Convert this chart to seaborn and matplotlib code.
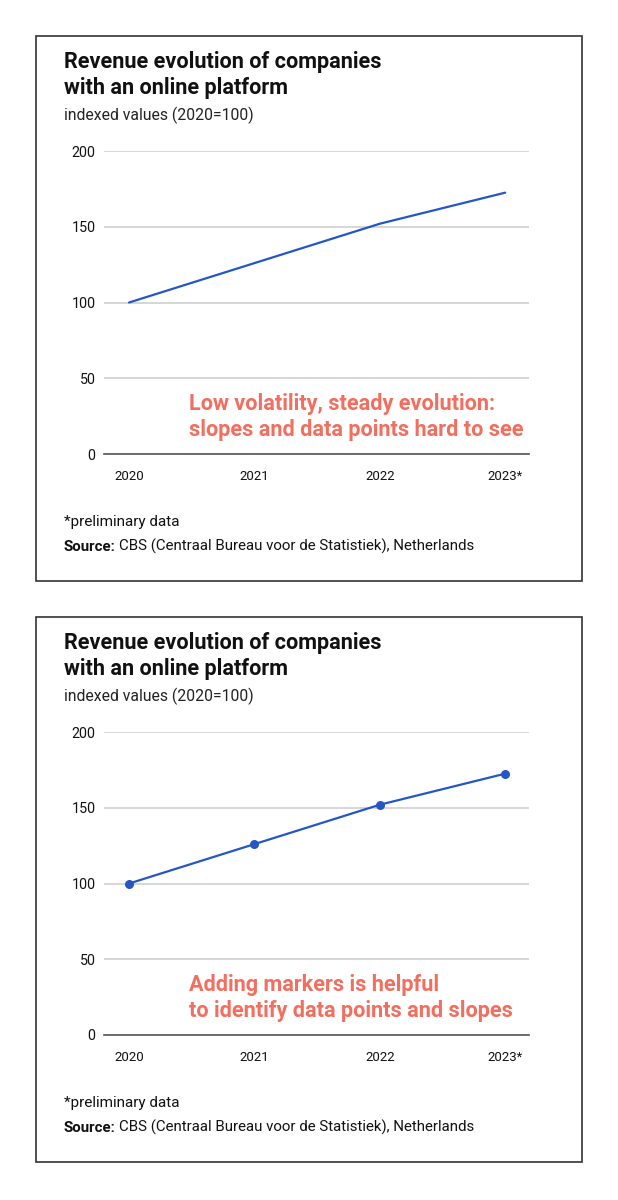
import matplotlib
matplotlib.use("Agg")
import matplotlib.pyplot as plt
from matplotlib.patches import Rectangle
import seaborn as sns
import pandas as pd

years = ["2020", "2021", "2022", "2023*"]
revenue_index = [100, 126, 152, 172.5]
y_ticks = [0, 50, 100, 150, 200]

title = "Revenue evolution of companies\nwith an online platform"
subtitle = "indexed values (2020=100)"
notes = ["Low volatility, steady evolution:\nslopes and data points hard to see",
         "Adding markers is helpful\nto identify data points and slopes"]
footnote = "*preliminary data"
source_bold = "Source:"
source_rest = "CBS (Centraal Bureau voor de Statistiek), Netherlands"

df = pd.DataFrame({"pos": range(len(years)), "value": revenue_index})

sns.set_style("white")
plt.rcParams["font.family"] = ["Roboto", "DejaVu Sans"]

W, H = 618, 1200
fig = plt.figure(figsize=(W / 100, H / 100), dpi=100)

LINE = "#2457c5"
CORAL = "#f26e5f"


def fx(px):
    return px / W


def fy(py):
    return 1 - py / H


for k, off in enumerate([0, 581]):
    fig.patches.append(Rectangle((fx(36), fy(581 + off)), fx(546), 545 / H,
                                 transform=fig.transFigure, fill=False,
                                 edgecolor="#333333", linewidth=1.2))
    fig.text(fx(64), fy(75 + off), title, fontsize=15.6, fontweight="bold",
             va="center", ha="left", linespacing=1.2, color="#111111")
    fig.text(fx(64), fy(115 + off), subtitle, fontsize=11.3, va="center",
             ha="left", color="#222222")

    ax = fig.add_axes([fx(104), fy(454 + off), fx(529 - 104), 303 / H])
    sns.lineplot(data=df, x="pos", y="value", ax=ax, color=LINE, linewidth=1.6,
                 marker="o" if k == 1 else None, markersize=6.5,
                 markeredgewidth=0, clip_on=False)
    ax.set_xlim(-0.2, 3.19)
    ax.set_ylim(0, 200)
    ax.set_yticks(y_ticks)
    ax.set_yticklabels([str(t) for t in y_ticks], fontsize=10.3)
    ax.set_xticks(range(len(years)))
    ax.set_xticklabels(years, fontsize=9.5)
    ax.set_xlabel("")
    ax.set_ylabel("")
    for s in ["top", "right", "left"]:
        ax.spines[s].set_visible(False)
    ax.spines["bottom"].set_color("#555555")
    ax.spines["bottom"].set_linewidth(1.2)
    ax.grid(axis="y", color="#cccccc", linewidth=1.1)
    ax.grid(axis="x", visible=False)
    ax.set_axisbelow(True)
    ax.tick_params(axis="y", length=0, pad=6, colors="#111111")
    ax.tick_params(axis="x", length=6, width=1.1, color="#555555", pad=5.5,
                   labelcolor="#111111", direction="out")
    ax.patch.set_alpha(0)

    fig.text(fx(189), fy(417 + off), notes[k], fontsize=15.6, fontweight="bold",
             color=CORAL, va="center", ha="left", linespacing=1.2)

    fig.text(fx(64), fy(522 + off), footnote, fontsize=11, va="center",
             ha="left", color="#111111")
    t = fig.text(fx(64), fy(551 + off), source_bold, fontsize=10.8,
                 fontweight="bold", va="baseline", ha="left", color="#111111")
    fig.canvas.draw()
    bb = t.get_window_extent()
    fig.text((bb.x1 + 3) / W, fy(551 + off), source_rest, fontsize=10.8,
             va="baseline", ha="left", color="#111111")

fig.savefig("out.png", dpi=100, facecolor="white")
